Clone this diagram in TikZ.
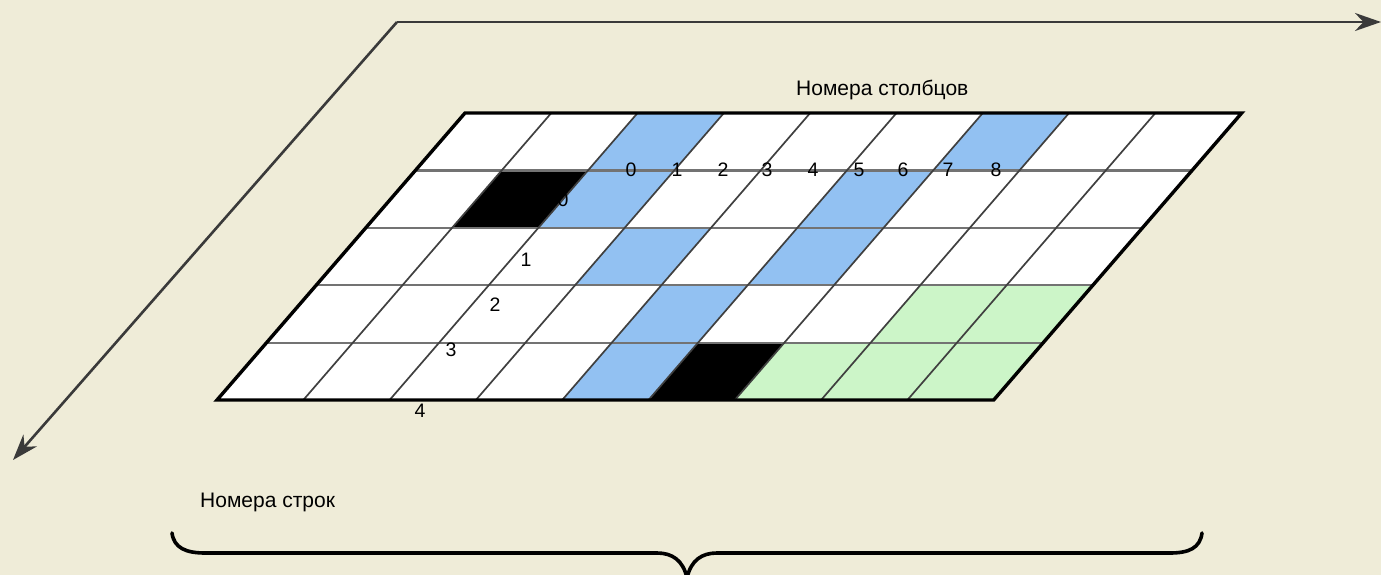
\documentclass[tikz,border=0pt]{standalone}
\usepackage{fontspec}
\setmainfont{Liberation Sans}
\usetikzlibrary{arrows.meta}
\definecolor{bgc}{HTML}{EFECD8}
\definecolor{cellblue}{HTML}{92C1F2}
\definecolor{cellgreen}{HTML}{CCF5C8}
\definecolor{axisgray}{HTML}{3A3A3A}
\tikzset{
  axisline/.style={draw=axisgray, line width=2.6pt, -{Stealth[length=26pt,width=18pt]}},
  bluecell/.style={fill=cellblue},
  blackcell/.style={fill=black},
  greencell/.style={fill=cellgreen},
  hline/.style={draw=black!55, line width=2.2pt},
  dline/.style={draw=black!75, line width=1.7pt},
  border/.style={draw=black, line width=3.4pt, line join=miter},
  numlbl/.style={font=\fontsize{19.5}{22}\selectfont, inner sep=0pt},
  txtlbl/.style={font=\fontsize{21}{24}\selectfont, inner sep=0pt, anchor=west},
  bracestyle/.style={draw=black, line width=3.6pt, line cap=round}
}
\begin{document}
\begin{tikzpicture}[x=1pt, y=-1pt]
\useasboundingbox (0,0) rectangle (1381,575);
\fill[bgc] (0,0) rectangle (1381,575);
% axes
\coordinate (corner) at (397,22);
\coordinate (xend) at (1381,22);
\coordinate (yend) at (13,460);
\draw[axisline] (corner) -- (xend);
\draw[axisline] (corner) -- (yend);
% grid
\begin{scope}[shift={(465,113)}, x={(86.3pt,0pt)}, y={(-49.6pt,-57.4pt)}]
  \fill[white] (0,0) -- (9,0) -- (9,5) -- (0,5) -- cycle;
  \foreach \c/\r in {2/0,6/0,2/1,5/1,3/2,5/2,4/3,4/4}
    \fill[bluecell] (\c,\r) -- ++(1,0) -- ++(0,1) -- ++(-1,0) -- cycle;
  \foreach \c/\r in {7/3,8/3,6/4,7/4,8/4}
    \fill[greencell] (\c,\r) -- ++(1,0) -- ++(0,1) -- ++(-1,0) -- cycle;
  \foreach \c/\r in {1/1,5/4}
    \fill[blackcell] (\c,\r) -- ++(1,0) -- ++(0,1) -- ++(-1,0) -- cycle;
  \foreach \r in {1,...,4}
    \draw[hline] (0,\r) -- (9,\r);
  \foreach \c in {1,...,8}
    \draw[dline] (\c,0) -- (\c,5);
  \draw[border] (0,0) -- (9,0) -- (9,5) -- (0,5) -- cycle;
\end{scope}
% column numbers
\foreach \n/\xx in {0/631,1/677,2/723,3/767,4/813,5/859,6/903,7/948,8/996}
  \node[numlbl] (col\n) at (\xx,170) {\n};
% row numbers
\node[numlbl] (row0) at (563,200) {0};
\node[numlbl] (row1) at (526,260) {1};
\node[numlbl] (row2) at (495,305) {2};
\node[numlbl] (row3) at (451,350) {3};
\node[numlbl] (row4) at (420,411) {4};
% titles
\node[txtlbl] (coltitle) at (796,90) {Номера столбцов};
\node[txtlbl] (rowtitle) at (200,502) {Номера строк};
% brace
\coordinate (bl) at (172,533);
\coordinate (br) at (1202,533);
\coordinate (btip) at (687,578);
\draw[bracestyle] (bl) .. controls (174,548) and (186,553) .. (205,553)
  -- (657,553) .. controls (672,553) and (683,560) .. (btip)
  .. controls (691,560) and (702,553) .. (717,553)
  -- (1170,553) .. controls (1189,553) and (1200,548) .. (br);
\end{tikzpicture}
\end{document}
